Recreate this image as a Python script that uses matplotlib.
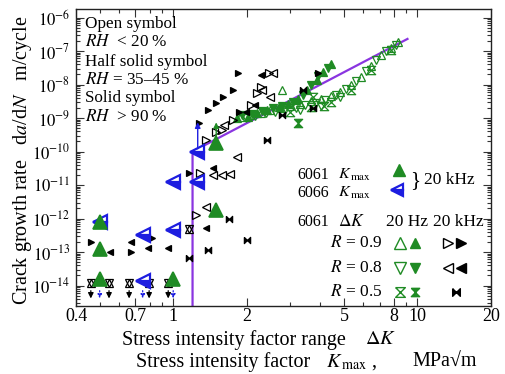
import matplotlib
matplotlib.use('Agg')
import matplotlib.pyplot as plt
from matplotlib.ticker import FixedLocator, FixedFormatter, LogLocator, NullFormatter

plt.rcParams['font.family'] = ['Liberation Serif', 'DejaVu Serif']
plt.rcParams['mathtext.fontset'] = 'stix'

GREEN = '#1f8b24'
BLUE = '#1d1de0'
PURPLE = '#8a35e0'

# ---------------- data ----------------
# 6061 Kmax 20 kHz (large green triangles)
k61_x = [0.50, 0.50, 0.50, 1.0, 1.50, 1.50]
k61_y = [8.0e-13, 1.2e-13, 1.6e-14, 1.6e-14, 1.8e-12, 1.8e-10]
# 6066 Kmax 20 kHz (large blue left triangles)
k66_x = [0.50, 0.75, 0.75, 1.0, 1.0, 1.25, 1.25]
k66_y = [8.0e-13, 1.4e-14, 3.2e-13, 4.6e-13, 1.2e-11, 1.2e-11, 1.0e-10]

# 6061 dK 20 Hz, open symbols
g09o_x = [2.80, 1.88, 2.07, 2.28, 2.50, 2.75, 3.02, 3.32, 3.65, 4.01, 4.41, 4.84, 5.33, 5.85, 6.43, 7.07, 7.77, 8.30]
g09o_y = [6.9e-9, 1.07e-9, 1.2e-9, 1.4e-9, 1.7e-9, 2.0e-9, 2.3e-9, 2.6e-9, 3.2e-9, 3.7e-9, 4.6e-9, 6.0e-9, 9.7e-9,
          1.66e-8, 3.6e-8, 7.6e-8, 1.23e-7, 1.86e-7]
g08o_x = [1.98, 2.17, 2.39, 2.62, 2.88, 3.17, 3.48, 3.83, 4.20, 4.62, 5.08, 5.58, 6.14, 6.74, 7.41, 8.14, 3.32, 4.01, 4.84]
g08o_y = [1.0e-9, 1.15e-9, 1.4e-9, 1.5e-9, 1.7e-9, 2.0e-9, 2.45e-9, 2.8e-9, 3.5e-9, 4.9e-9, 7.4e-9, 1.26e-8, 2.5e-8,
          5.4e-8, 1.0e-7, 1.5e-7, 1.7e-9, 2.3e-9, 4.3e-9]
g05o_x = [3.02, 3.65, 4.41, 5.33, 6.43, 7.77, 3.75, 4.13]
g05o_y = [1.5e-9, 2.1e-9, 3.0e-9, 7.0e-9, 2.7e-8, 1.07e-7, 4.3e-9, 2.3e-9]
# 6061 dK 20 Hz, solid symbols
g09f_x = [1.83, 2.02, 2.20, 2.43, 2.70, 2.95, 3.25, 3.53, 3.87, 4.10, 4.41]
g09f_y = [1.0e-9, 1.1e-9, 1.4e-9, 1.7e-9, 2.1e-9, 2.6e-9, 3.7e-9, 6.9e-9, 1.35e-8, 2.35e-8, 4.1e-8]
g08f_x = [1.92, 2.11, 2.32, 2.55, 2.80, 3.10, 3.40, 3.65, 3.90, 4.30]
g08f_y = [1.2e-9, 1.3e-9, 1.6e-9, 2.0e-9, 2.3e-9, 3.0e-9, 4.9e-9, 9.7e-9, 1.8e-8, 3.1e-8]
g05f_x = [3.25]
g05f_y = [7.1e-10]

# 6061 dK 20 kHz (black)
b09f_x = [0.46, 0.67, 0.82, 1.16, 1.28, 1.39, 1.49, 1.60, 1.75, 1.85, 1.86, 3.90]
b09f_y = [2.0e-13, 1.0e-13, 2.6e-13, 2.3e-11, 7.0e-10, 1.7e-9, 2.8e-9, 4.3e-9, 6.9e-9, 2.2e-8, 1.5e-9, 2.2e-8]
b09o_x = [1.24, 1.29, 1.36, 1.50, 1.58, 1.75, 2.08, 2.20, 2.28, 2.46]
b09o_y = [1.3e-12, 2.3e-11, 2.2e-10, 3.8e-10, 4.4e-10, 8.7e-10, 2.5e-9, 5.6e-9, 8.5e-9, 2.2e-8]
b08f_x = [0.55, 0.67, 0.79, 0.95, 1.36, 1.45, 1.98, 2.17, 2.28]
b08f_y = [1.0e-13, 2.0e-13, 1.3e-13, 1.3e-13, 5.2e-13, 3.2e-11, 1.5e-9, 2.5e-9, 1.9e-8]
b08o_x = [1.36, 1.45, 1.58, 1.71, 1.83, 1.62, 2.50, 2.55, 2.30]
b08o_y = [2.2e-12, 2.0e-11, 2.0e-11, 2.1e-11, 6.9e-11, 6.2e-10, 4.3e-9, 2.2e-8, 7.0e-9]
b05_x = [1.16, 1.39, 1.69, 2.00, 2.43, 2.78, 3.40, 3.75]
b05_y = [6.6e-14, 1.15e-13, 1.0e-12, 2.3e-13, 2.2e-10, 1.2e-9, 6.9e-9, 2.0e-9]

# no-growth symbols with arrows
hex_x = [0.46, 0.546, 0.66, 0.797, 0.954, 1.16]
hex_y = [1.2e-14, 1.2e-14, 1.2e-14, 1.2e-14, 1.2e-14, 5.0e-13]
down_black_x = [0.46, 0.546, 0.66, 0.797, 0.954]
down_blue_x = [0.50, 0.75, 1.0]
down_from, down_to = 8.5e-15, 3.4e-15
up_x = [1.26, 1.50]
up_from = [1.0e-10, 1.8e-10]
up_to = [9.0e-10, 9.0e-10]
up_col = [BLUE, GREEN]

# fitted line
line_x = [1.2, 1.2, 9.1]
line_y = [2.0e-15, 1.0e-10, 2.3e-7]

xticks = [0.4, 0.7, 1, 2, 5, 8, 10, 20]
xticklabels = ['0.4', '0.7', '1', '2', '5', '8', '10', '20']
xminor = [0.5, 0.6, 0.8, 0.9, 3, 4, 6, 7, 9]
yexp = [-14, -13, -12, -11, -10, -9, -8, -7, -6]

HOURGLASS = [(-1, 1), (1, 1), (-1, -1), (1, -1), (-1, 1)]
BOWTIE = [(-1, 1), (-1, -1), (1, 1), (1, -1), (-1, 1)]

W, H = 505, 374
fig = plt.figure(figsize=(W / 100, H / 100), dpi=100)
L, R, T, B = 76, 491, 9, 306
ax = fig.add_axes([L / W, 1 - B / H, (R - L) / W, (B - T) / H])
ax.set_xscale('log')
ax.set_yscale('log')
ax.set_xlim(0.4, 20)
ax.set_ylim(2.45e-15, 1.8e-6)


def pts(x, y, m, ms, fc, ec, lw=0.9, **kw):
    ax.plot(x, y, ls='none', marker=m, ms=ms, mfc=fc, mec=ec, mew=lw, **kw)


# fitted line
ax.plot(line_x, line_y, color=PURPLE, lw=1.6, zorder=2)

# arrows
for xx in down_black_x:
    ax.annotate('', xy=(xx, down_to), xytext=(xx, down_from),
                arrowprops=dict(arrowstyle='-|>', color='k', lw=0.9, mutation_scale=8))
for xx in down_blue_x:
    ax.annotate('', xy=(xx, down_to), xytext=(xx, down_from),
                arrowprops=dict(arrowstyle='-|>', color=BLUE, lw=0.9, ls=':', mutation_scale=6))
for xx, y0, y1, c in zip(up_x, up_from, up_to, up_col):
    ax.annotate('', xy=(xx, y1), xytext=(xx, y0),
                arrowprops=dict(arrowstyle='-|>', color=c, lw=1.0, mutation_scale=8))

# green 20 Hz
pts(g09o_x, g09o_y, '^', 6, 'none', GREEN)
pts(g08o_x, g08o_y, 'v', 6, 'none', GREEN)
pts(g05o_x, g05o_y, HOURGLASS, 6, 'none', GREEN)
pts(g09f_x, g09f_y, '^', 6, GREEN, GREEN)
pts(g08f_x, g08f_y, 'v', 6, GREEN, GREEN)
pts(g05f_x, g05f_y, HOURGLASS, 6, GREEN, GREEN)

# black 20 kHz
pts(b09f_x, b09f_y, '>', 5, 'k', 'k')
pts(b09o_x, b09o_y, '>', 5.5, 'none', 'k')
pts(b08f_x, b08f_y, '<', 5, 'k', 'k')
pts(b08o_x, b08o_y, '<', 5.5, 'none', 'k')
pts(b05_x, b05_y, BOWTIE, 4.5, 'k', 'k')
pts(hex_x, hex_y, '^', 5.5, 'white', 'k')
pts(hex_x, hex_y, 'v', 5.5, 'none', 'k')

# large Kmax symbols
pts(k66_x, k66_y, '<', 10, BLUE, BLUE, lw=1.6, fillstyle='bottom', markerfacecoloralt='white')
pts(k61_x, k61_y, '^', 10, GREEN, GREEN, lw=1.2)

# axes styling
ax.xaxis.set_major_locator(FixedLocator(xticks))
ax.xaxis.set_major_formatter(FixedFormatter(xticklabels))
ax.xaxis.set_minor_locator(FixedLocator(xminor))
ax.xaxis.set_minor_formatter(NullFormatter())
ax.yaxis.set_major_locator(FixedLocator([10.0 ** e for e in yexp]))
ax.yaxis.set_major_formatter(FixedFormatter([r'$10^{%d}$' % e for e in yexp]))
ax.yaxis.set_minor_locator(LogLocator(base=10, subs=[2, 3, 4, 5, 6, 7, 8, 9], numticks=50))
ax.yaxis.set_minor_formatter(NullFormatter())
ax.tick_params(which='both', direction='in', top=True, right=True, width=0.8, color='#333333')
ax.tick_params(which='major', length=6)
ax.tick_params(which='minor', length=3)
ax.tick_params(axis='x', labelsize=13, pad=1.5)
ax.tick_params(axis='y', labelsize=12, pad=4)
for s in ax.spines.values():
    s.set_linewidth(1.0)
    s.set_color('#222222')


def fp(px, py):
    return px / W, 1 - py / H


TS = 11.5
# upper-left notes
notes = ['Open symbol', r'$RH$  < 20 %', 'Half solid symbol', r'$RH$ = 35–45 %', 'Solid symbol', r'$RH$  > 90 %']
note_y = [24, 42, 62, 80, 98, 117]
for t, yy in zip(notes, note_y):
    fig.text(*fp(85, yy), t, fontsize=12.3, va='center', ha='left')

# axis labels
fig.text(*fp(23, 160), r'Crack growth rate   d$a$/d$N$   m/cycle', rotation=90,
         fontsize=14.5, va='center', ha='center')
fig.text(*fp(122, 340), 'Stress intensity factor range', fontsize=14.5, va='center', ha='left')
fig.text(*fp(365, 340), r'$\Delta K$', fontsize=14.5, va='center', ha='left')
fig.text(*fp(136, 362), 'Stress intensity factor', fontsize=14.5, va='center', ha='left')
fig.text(*fp(326, 362), r'$K_{\,\mathrm{max}}$ ,', fontsize=14.5, va='center', ha='left')
fig.text(*fp(412, 362), 'MPa√m', fontsize=14.5, va='center', ha='left')

# in-plot legend
fig.text(*fp(297, 175), '6061', fontsize=TS, va='center')
fig.text(*fp(338, 175), r'$K_{\,\mathrm{max}}$', fontsize=TS, va='center')
fig.text(*fp(297, 193), '6066', fontsize=TS, va='center')
fig.text(*fp(338, 193), r'$K_{\,\mathrm{max}}$', fontsize=TS, va='center')
fig.text(*fp(410, 181), '}', fontsize=15, va='center')
fig.text(*fp(424, 180), '20 kHz', fontsize=TS + 1, va='center')
fig.text(*fp(297, 222), '6061', fontsize=TS, va='center')
fig.text(*fp(338, 222), r'$\Delta K$', fontsize=TS + 1, va='center')
fig.text(*fp(407, 222), '20 Hz', fontsize=TS + 1, va='center', ha='center')
fig.text(*fp(458, 222), '20 kHz', fontsize=TS + 1, va='center', ha='center')
rows = [r'$R$ = 0.9', r'$R$ = 0.8', r'$R$ = 0.5']
row_y = [243, 268, 292]
for t, yy in zip(rows, row_y):
    fig.text(*fp(382, yy), t, fontsize=TS + 1, va='center', ha='right')


def lm(px, py, m, ms, fc, ec, lw=1.0, **kw):
    fx, fy = fp(px, py)
    ax.plot([fx], [fy], transform=fig.transFigure, clip_on=False, ls='none', marker=m, ms=ms,
            mfc=fc, mec=ec, mew=lw, **kw)


lm(399, 170, '^', 9, GREEN, GREEN)
lm(397, 190, '<', 9, BLUE, BLUE, lw=1.6, fillstyle='bottom', markerfacecoloralt='white')
lm(400, 243, '^', 8, 'none', GREEN)
lm(415, 243, '^', 7, GREEN, GREEN)
lm(448, 243, '>', 7.5, 'none', 'k')
lm(461, 243, '>', 6.5, 'k', 'k')
lm(400, 268, 'v', 8, 'none', GREEN)
lm(415, 268, 'v', 7, GREEN, GREEN)
lm(448, 268, '<', 7.5, 'none', 'k')
lm(461, 268, '<', 6.5, 'k', 'k')
lm(400, 292, HOURGLASS, 7, 'none', GREEN)
lm(415, 292, HOURGLASS, 6, GREEN, GREEN)
lm(456, 292, BOWTIE, 5.5, 'k', 'k')

fig.savefig('out.png', dpi=100)
